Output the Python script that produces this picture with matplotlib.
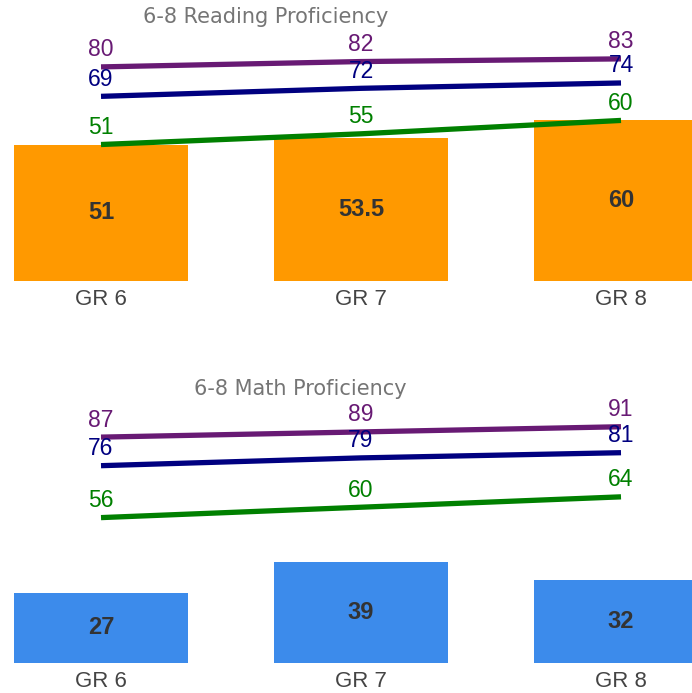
import matplotlib
matplotlib.use('Agg')
import matplotlib.pyplot as plt

grades = ['GR 6', 'GR 7', 'GR 8']

reading_bars = [51, 53.5, 60]
reading_purple = [80, 82, 83]
reading_navy = [69, 72, 74]
reading_green = [51, 55, 60]

math_bars = [27, 39, 32]
math_purple = [87, 89, 91]
math_navy = [76, 79, 81]
math_green = [56, 60, 64]

plt.rcParams['font.family'] = ['Liberation Sans', 'DejaVu Sans']

fig = plt.figure(figsize=(6.92, 6.93), dpi=100)
W, H = 692, 693


def panel(top_px, bottom_px, ymax, bars, lines, bar_color, title, title_x, title_y):
    ax = fig.add_axes([0, 1 - bottom_px / H, 1, (bottom_px - top_px) / H])
    x = list(range(len(grades)))
    ax.bar(x, bars, width=174 / 260, color=bar_color, zorder=1)
    for xi, v in zip(x, bars):
        ax.text(xi, v / 2, f'{v:g}', ha='center', va='center',
                fontsize=17, fontweight='bold', color='#333333')
    for vals, col in lines:
        ax.plot(x, vals, color=col, lw=3.8, solid_capstyle='butt', zorder=3)
        for xi, v in zip(x, vals):
            ax.annotate(str(v), (xi, v), xytext=(0, 4), textcoords='offset points',
                        ha='center', va='bottom', fontsize=16.5, color=col)
    ax.set_xlim(-101 / 260, (W - 101) / 260)
    ax.set_ylim(0, ymax)
    ax.set_xticks(x)
    ax.set_xticklabels(grades, fontsize=16, color='#444444')
    ax.tick_params(axis='x', length=0, pad=6)
    ax.set_yticks([])
    for s in ax.spines.values():
        s.set_visible(False)
    fig.text(title_x / W, 1 - title_y / H, title, ha='center', va='center',
             fontsize=15, color='#757575', family='DejaVu Sans')
    return ax


panel(0, 281, 105, reading_bars,
      [(reading_purple, '#681A74'), (reading_navy, '#000080'), (reading_green, '#008000')],
      '#FF9900', '6-8 Reading Proficiency', 266, 17)
panel(380, 663, 109, math_bars,
      [(math_purple, '#681A74'), (math_navy, '#000080'), (math_green, '#008000')],
      '#3C8BEB', '6-8 Math Proficiency', 300, 389)

plt.savefig('out.png', dpi=100)
